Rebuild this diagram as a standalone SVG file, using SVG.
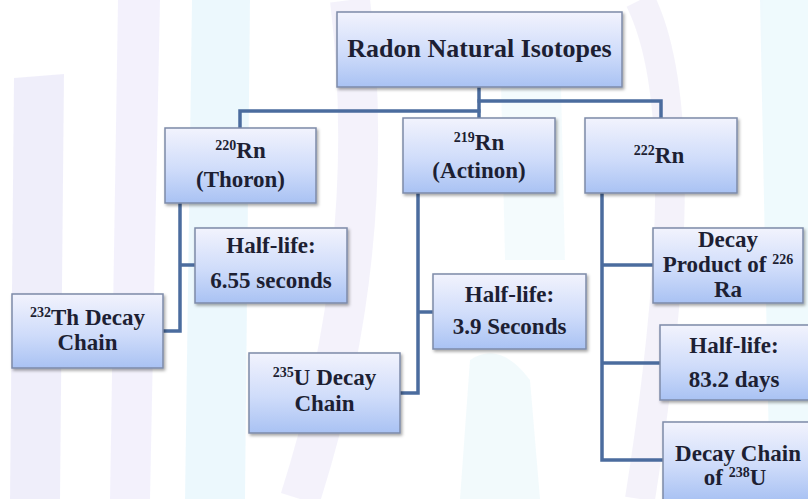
<svg xmlns="http://www.w3.org/2000/svg" width="808" height="499" viewBox="0 0 808 499">
<defs>
<linearGradient id="boxg" x1="0" y1="0" x2="0" y2="1">
<stop offset="0" stop-color="#f2f3fd"/>
<stop offset="0.55" stop-color="#cfdcfa"/>
<stop offset="1" stop-color="#a9c2f3"/>
</linearGradient>
<filter id="sh" x="-10%" y="-10%" width="125%" height="130%">
<feDropShadow dx="1.5" dy="2" stdDeviation="1.5" flood-color="#000" flood-opacity="0.35"/>
</filter>
<style>
.box{fill:url(#boxg);stroke:#7d8aa8;stroke-width:1.5;filter:url(#sh)}
.t{font-weight:bold;font-size:23px;fill:#1d1f33;text-anchor:middle}
.big{font-size:26px}
.sup{font-size:14px}
.con{fill:none;stroke:#4b6c9e;stroke-width:3.5;stroke-linejoin:miter}
.wm{fill:none;stroke-linecap:butt}
</style>
</defs>
<rect width="808" height="499" fill="#ffffff"/>
<g id="watermark" opacity="0.4">
<path d="M14,78 L64,74 L60,499 L10,499 Z" fill="#d9d6f3"/>
<path d="M118,0 L160,0 L150,499 L110,499 Z" fill="#e2defa"/>
<path d="M192,0 L250,0 L245,499 L185,499 Z" fill="#d2f0fb"/>
<path d="M350,0 Q380,250 300,499" class="wm" stroke="#e4e0f6" stroke-width="40"/>
<path d="M640,0 Q700,120 640,499" class="wm" stroke="#e4e0f3" stroke-width="30"/>
<path d="M760,0 L808,0 L808,499 L770,499 Z" fill="#d8f2fb"/>
<path d="M470,360 Q500,340 530,380 L540,499 L460,499 Z" fill="#dff3f8"/>
<path d="M500,40 L560,40 L565,260 L505,260 Z" fill="#e6f6fb"/>
</g>
<g id="connectors">
<path class="con" d="M479,87 V118"/>
<path class="con" d="M480.5,111 H240 V128"/>
<path class="con" d="M477.5,101 H661 V118"/>
<path class="con" d="M180,203 V331 H163"/>
<path class="con" d="M180,265 H195"/>
<path class="con" d="M418,193 V393 H400"/>
<path class="con" d="M418,312 H433"/>
<path class="con" d="M602,193 V460 H663"/>
<path class="con" d="M602,265 H653"/>
<path class="con" d="M602,363 H660"/>
</g>
<g font-family="'Liberation Serif', 'DejaVu Serif', serif">
<g id="root">
<rect class="box" x="337" y="12" width="285" height="75"/>
<text class="t big" x="479.5" y="57">Radon Natural Isotopes</text>
</g>
<g id="thoron">
<rect class="box" x="165" y="128" width="151" height="75"/>
<text class="t" x="240.5" y="158"><tspan class="sup" dy="-8">220</tspan><tspan dy="8">Rn</tspan></text>
<text class="t" x="240.5" y="187">(Thoron)</text>
</g>
<g id="actinon">
<rect class="box" x="403" y="118" width="152" height="75"/>
<text class="t" x="479" y="150"><tspan class="sup" dy="-8">219</tspan><tspan dy="8">Rn</tspan></text>
<text class="t" x="479" y="178">(Actinon)</text>
</g>
<g id="rn222">
<rect class="box" x="585" y="118" width="152" height="75"/>
<text class="t" x="659" y="163"><tspan class="sup" dy="-8">222</tspan><tspan dy="8">Rn</tspan></text>
</g>
<g id="halflife-thoron">
<rect class="box" x="195" y="228" width="152" height="75"/>
<text class="t" x="271" y="253">Half-life:</text>
<text class="t" x="271" y="288">6.55 seconds</text>
</g>
<g id="th232">
<rect class="box" x="12" y="294" width="151" height="74"/>
<text class="t" x="87.5" y="325"><tspan class="sup" dy="-8">232</tspan><tspan dy="8">Th Decay</tspan></text>
<text class="t" x="87.5" y="350">Chain</text>
</g>
<g id="halflife-actinon">
<rect class="box" x="433" y="274" width="153" height="75"/>
<text class="t" x="509.5" y="302">Half-life:</text>
<text class="t" x="509.5" y="334">3.9 Seconds</text>
</g>
<g id="u235">
<rect class="box" x="249" y="353" width="151" height="80"/>
<text class="t" x="324.5" y="385"><tspan class="sup" dy="-8">235</tspan><tspan dy="8">U Decay</tspan></text>
<text class="t" x="324.5" y="411">Chain</text>
</g>
<g id="decay-product">
<rect class="box" x="653" y="228" width="150" height="75"/>
<text class="t" x="728" y="247">Decay</text>
<text class="t" x="728" y="272">Product of <tspan class="sup" dy="-8">226</tspan></text>
<text class="t" x="728" y="297">Ra</text>
</g>
<g id="halflife-222">
<rect class="box" x="660" y="325" width="152" height="75"/>
<text class="t" x="734" y="353">Half-life:</text>
<text class="t" x="734" y="387">83.2 days</text>
</g>
<g id="decay-chain">
<rect class="box" x="663" y="422" width="152" height="78"/>
<text class="t" x="738" y="461">Decay Chain</text>
<text class="t" x="735" y="485">of <tspan class="sup" dy="-8">238</tspan><tspan dy="8">U</tspan></text>
</g>
</g>
</svg>
